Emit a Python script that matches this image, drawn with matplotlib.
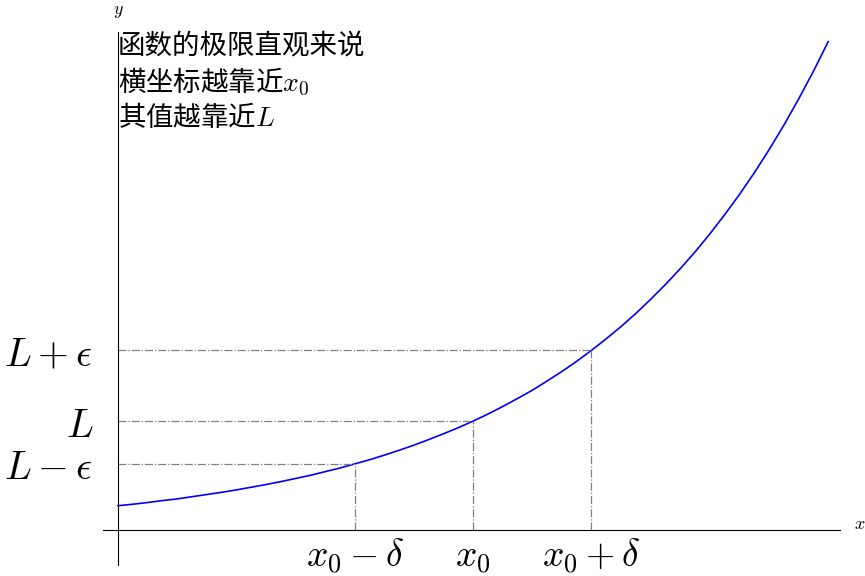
import matplotlib
matplotlib.use('Agg')
import matplotlib.pyplot as plt

plt.rcParams['font.family'] = ['Noto Sans CJK SC', 'DejaVu Sans']
plt.rcParams['mathtext.fontset'] = 'cm'

# 曲线上读出的点（步长 0.0625）
curve_x = [i * 0.0625 for i in range(49)]
curve_y = [1.00, 1.06, 1.13, 1.21, 1.28, 1.37, 1.46, 1.55, 1.65, 1.76, 1.87, 1.99,
           2.12, 2.25, 2.40, 2.55, 2.72, 2.89, 3.08, 3.28, 3.49, 3.72, 3.96, 4.21,
           4.48, 4.77, 5.08, 5.41, 5.75, 6.13, 6.52, 6.94, 7.39, 7.87, 8.37, 8.91,
           9.49, 10.10, 10.75, 11.44, 12.18, 12.97, 13.80, 14.69, 15.64, 16.65, 17.73,
           18.87, 20.09]

# x0-δ, x0, x0+δ 以及对应的函数值
mark_x = [1.0, 1.5, 2.0]
mark_y = [2.72, 4.48, 7.39]
xtick_labels = [r'$x_0-\delta$', r'$x_0$', r'$x_0+\delta$']
ytick_labels = [r'$L-\epsilon$', r'$L$', r'$L+\epsilon$']
note = '函数的极限直观来说\n横坐标越靠近$x_0$\n其值越靠近$L$'

fig = plt.figure(figsize=(8.65, 5.76), dpi=100)
ax = fig.add_axes([103 / 865, 11 / 576, 737 / 865, 533 / 576])

ax.plot(curve_x, curve_y, color='blue', lw=1.2)
for px, py in zip(mark_x, mark_y):
    ax.plot([0, px], [py, py], color='gray', lw=0.9, ls='-.')
    ax.plot([px, px], [0, py], color='gray', lw=0.9, ls='-.')

ax.set_xlim(-0.0634, 3.05)
ax.set_ylim(-1.44, 20.49)

ax.spines['top'].set_visible(False)
ax.spines['right'].set_visible(False)
ax.spines['left'].set_position(('data', 0))
ax.spines['bottom'].set_position(('data', 0))

ax.set_xticks(mark_x)
ax.set_xticklabels(xtick_labels, fontsize=27)
ax.set_yticks(mark_y)
ax.set_yticklabels(ytick_labels, fontsize=28.5)
ax.tick_params(axis='x', length=0, pad=5)
ax.tick_params(axis='y', length=0, pad=18)

ax.text(3.11, 0.25, r'$x$', fontsize=13, va='center', ha='left')
ax.text(0, 21.35, r'$y$', fontsize=13, va='center', ha='center')
ax.text(0.0, 20.45, note, fontsize=19.8, va='top', ha='left', linespacing=1.2,
        fontweight='medium')

fig.savefig('out.png', dpi=100)
